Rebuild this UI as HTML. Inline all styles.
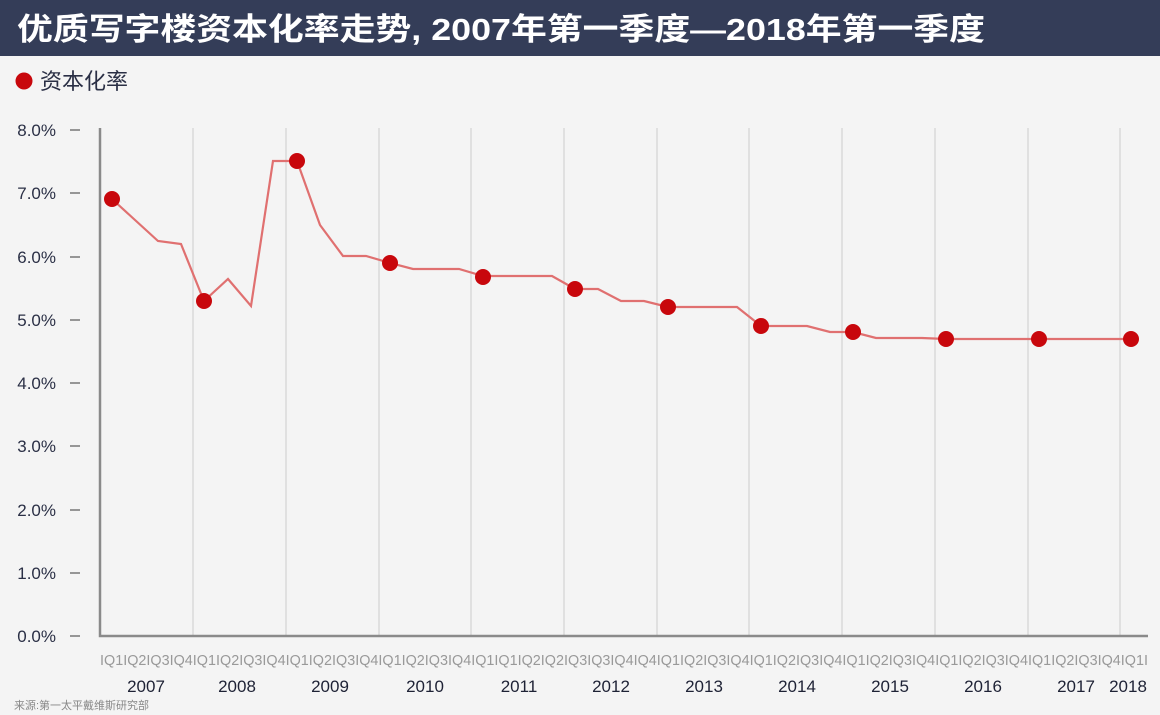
<!DOCTYPE html>
<html><head><meta charset="utf-8"><style>
body{margin:0;width:1160px;height:715px;background:#f4f4f4;overflow:hidden;font-family:"Liberation Sans","Noto Sans CJK SC",sans-serif}
</style></head><body>
<svg width="1160" height="715" xmlns="http://www.w3.org/2000/svg" style="display:block">
<rect x="0" y="0" width="1160" height="56" fill="#343d58"/>
<text x="17" y="40" font-family="Liberation Sans,Noto Sans CJK SC,sans-serif" font-weight="bold" font-size="31" fill="#fff" textLength="968" lengthAdjust="spacingAndGlyphs">优质写字楼资本化率走势, 2007年第一季度—2018年第一季度</text>
<circle cx="24" cy="81" r="8.5" fill="#c8070c"/>
<text x="40" y="89" font-family="Liberation Sans,Noto Sans CJK SC,sans-serif" font-size="22" fill="#2a2f45">资本化率</text>
<g stroke="#e0e0e0" stroke-width="2">
<line x1="193" y1="128" x2="193" y2="636"/><line x1="286" y1="128" x2="286" y2="636"/><line x1="379" y1="128" x2="379" y2="636"/><line x1="471" y1="128" x2="471" y2="636"/><line x1="564" y1="128" x2="564" y2="636"/><line x1="657" y1="128" x2="657" y2="636"/><line x1="749" y1="128" x2="749" y2="636"/><line x1="842" y1="128" x2="842" y2="636"/><line x1="935" y1="128" x2="935" y2="636"/><line x1="1028" y1="128" x2="1028" y2="636"/><line x1="1120" y1="128" x2="1120" y2="636"/>
</g>
<polyline points="100,128 100,636 1148,636" fill="none" stroke="#8a8a8a" stroke-width="2.5"/>
<g stroke="#777" stroke-width="1.5">
<line x1="70" y1="130" x2="80" y2="130"/><line x1="70" y1="193" x2="80" y2="193"/><line x1="70" y1="257" x2="80" y2="257"/><line x1="70" y1="320" x2="80" y2="320"/><line x1="70" y1="383" x2="80" y2="383"/><line x1="70" y1="446" x2="80" y2="446"/><line x1="70" y1="510" x2="80" y2="510"/><line x1="70" y1="573" x2="80" y2="573"/><line x1="70" y1="636" x2="80" y2="636"/>
</g>
<g font-size="17" fill="#2a2f45" text-anchor="end" font-family="Liberation Sans,sans-serif">
<text x="56" y="136">8.0%</text><text x="56" y="199">7.0%</text><text x="56" y="263">6.0%</text><text x="56" y="326">5.0%</text><text x="56" y="389">4.0%</text><text x="56" y="452">3.0%</text><text x="56" y="516">2.0%</text><text x="56" y="579">1.0%</text><text x="56" y="642">0.0%</text>
</g>
<polyline fill="none" stroke="#e07070" stroke-width="2.2" points="112,199 158,241 181,244 204,301 228,279 251,306 273,161 297,161 320,225 343,256 366,256 390,263 413,269 459,269 483,276 552,276 575,289 598,289 621,301 644,301 668,307 737,307 761,326 807,326 830,332 853,332 876,338 922,338 946,339 1131,339"/>
<g fill="#c8070c">
<circle cx="112" cy="199" r="8"/><circle cx="204" cy="301" r="8"/><circle cx="297" cy="161" r="8"/><circle cx="390" cy="263" r="8"/><circle cx="483" cy="277" r="8"/><circle cx="575" cy="289" r="8"/><circle cx="668" cy="307" r="8"/><circle cx="761" cy="326" r="8"/><circle cx="853" cy="332" r="8"/><circle cx="946" cy="339" r="8"/><circle cx="1039" cy="339" r="8"/><circle cx="1131" cy="339" r="8"/>
</g>
<text x="100" y="665" font-size="15" fill="#999" font-family="Liberation Sans,sans-serif" textLength="1048" lengthAdjust="spacingAndGlyphs">IQ1IQ2IQ3IQ4IQ1IQ2IQ3IQ4IQ1IQ2IQ3IQ4IQ1IQ2IQ3IQ4IQ1IQ1IQ2IQ2IQ3IQ3IQ4IQ4IQ1IQ2IQ3IQ4IQ1IQ2IQ3IQ4IQ1IQ2IQ3IQ4IQ1IQ2IQ3IQ4IQ1IQ2IQ3IQ4IQ1I</text>
<g font-size="17" fill="#1e2235" text-anchor="middle" font-family="Liberation Sans,sans-serif">
<text x="146" y="692">2007</text><text x="237" y="692">2008</text><text x="330" y="692">2009</text><text x="425" y="692">2010</text><text x="519" y="692">2011</text><text x="611" y="692">2012</text><text x="704" y="692">2013</text><text x="797" y="692">2014</text><text x="890" y="692">2015</text><text x="983" y="692">2016</text><text x="1076" y="692">2017</text><text x="1128" y="692">2018</text>
</g>
<text x="14" y="709" font-size="11" fill="#888" font-family="Liberation Sans,Noto Sans CJK SC,sans-serif">来源:第一太平戴维斯研究部</text>
</svg>
</body></html>
